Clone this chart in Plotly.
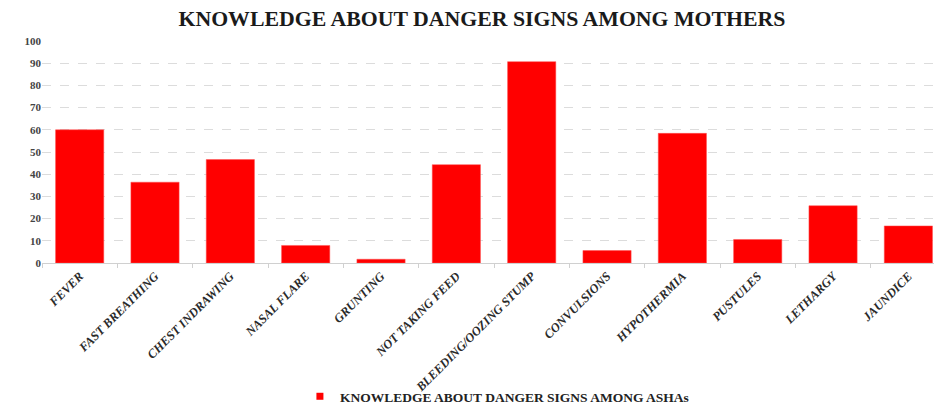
import plotly.graph_objects as go

categories = ["FEVER", "FAST BREATHING", "CHEST INDRAWING", "NASAL FLARE", "GRUNTING",
              "NOT TAKING FEED", "BLEEDING/OOZING STUMP", "CONVULSIONS", "HYPOTHERMIA",
              "PUSTULES", "LETHARGY", "JAUNDICE"]
values = [60, 36.4, 46.6, 7.9, 1.7, 44.3, 90.7, 5.6, 58.4, 10.6, 25.8, 16.7]
series_name = "KNOWLEDGE ABOUT DANGER SIGNS AMONG ASHAs"
title_text = "KNOWLEDGE ABOUT DANGER SIGNS AMONG MOTHERS"
y_ticks = list(range(0, 101, 10))

serif = "Liberation Serif, Times New Roman, serif"
RED = "#ff0000"

fig = go.Figure()
fig.add_trace(go.Bar(
    x=categories, y=values, name=series_name,
    marker=dict(color=RED, line=dict(color="#ff5050", width=0.5)),
    showlegend=False,
))
# legend entry with a small square marker, as in the reference
fig.add_trace(go.Scatter(
    x=[None], y=[None], mode="markers", name=series_name,
    marker=dict(symbol="square", size=7, color=RED),
    showlegend=True, hoverinfo="skip",
))

fig.update_layout(
    width=934, height=412,
    margin=dict(l=42, r=0, t=41, b=149, autoexpand=False),
    paper_bgcolor="white", plot_bgcolor="white",
    bargap=0.36,
    title=dict(text="<b>" + title_text + "</b>", x=0.516, xanchor="center",
               y=1 - 18 / 412, yref="container", yanchor="middle",
               font=dict(family=serif, size=21.8, color="#1a1a1a")),
    showlegend=True,
    legend=dict(orientation="h", x=0.51, xanchor="center", y=-0.028, yanchor="bottom",
                yref="container",
                bgcolor="rgba(0,0,0,0)",
                font=dict(family=serif, size=13.5, color="#222222", weight="bold"),
                itemwidth=30, traceorder="normal"),
    font=dict(family=serif),
)

fig.update_xaxes(
    type="category",
    range=[-0.5, 11.34],
    tickangle=-45,
    tickfont=dict(family=serif, size=12.5, color="#2a2a2a", style="italic", weight="bold"),
    ticks="outside", ticklen=4, tickcolor="#d0d0d0", tickson="boundaries",
    showline=True, linecolor="#d0d0d0", linewidth=1,
    showgrid=False, automargin=False,
)
fig.update_yaxes(
    range=[0, 100],
    tickvals=y_ticks,
    tickfont=dict(family=serif, size=11, color="#444444", weight="bold"),
    showgrid=True, gridcolor="#dcdcdc", griddash="dash", gridwidth=1,
    zeroline=False, showline=False, ticks="", automargin=False,
)

fig.write_html("out.html")
